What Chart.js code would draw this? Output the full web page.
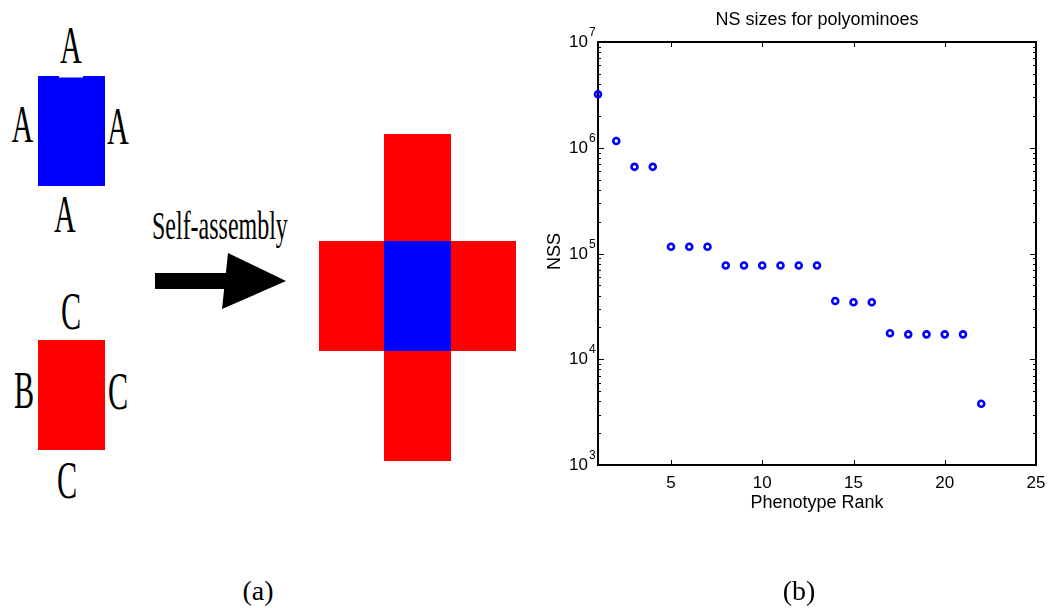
<!DOCTYPE html>
<html>
<head>
<meta charset="utf-8">
<title>Polyomino self-assembly and NS sizes</title>
<script src="https://cdn.jsdelivr.net/npm/chart.js@4.4.1/dist/chart.umd.min.js"></script>
<style>
  html, body { margin: 0; padding: 0; background: #fff; }
  body { width: 1051px; height: 608px; position: relative; overflow: hidden; }
  #diagram { position: absolute; left: 0; top: 0; }
  #plotBox { position: absolute; left: 540px; top: 0; width: 511px; height: 608px; }
  .tile-label { font-family: "Liberation Serif", "DejaVu Serif", serif; fill: #000; }
  .caption { font-family: "Liberation Serif", "DejaVu Serif", serif; font-size: 28px; fill: #000; }
</style>
</head>
<body>

<!-- Panel (a): two tile types and the assembled cross -->
<svg id="diagram" width="540" height="608" xmlns="http://www.w3.org/2000/svg">
  <!-- blue seed tile -->
  <rect x="38" y="76" width="67" height="110" fill="#0000ff"/>
  <rect x="59" y="76" width="24" height="1.5" fill="#ffffff"/>
  <text class="tile-label" font-size="52" text-anchor="middle" transform="translate(71,63) scale(0.58,1)">A</text>
  <text class="tile-label" font-size="52" text-anchor="middle" transform="translate(22.5,142) scale(0.58,1)">A</text>
  <text class="tile-label" font-size="52" text-anchor="middle" transform="translate(118,144) scale(0.58,1)">A</text>
  <text class="tile-label" font-size="52" text-anchor="middle" transform="translate(65,232) scale(0.58,1)">A</text>

  <!-- red tile -->
  <rect x="38" y="340" width="67" height="110" fill="#ff0000"/>
  <text class="tile-label" font-size="52" text-anchor="middle" transform="translate(71,329) scale(0.58,1)">C</text>
  <text class="tile-label" font-size="52" text-anchor="middle" transform="translate(24,408) scale(0.58,1)">B</text>
  <text class="tile-label" font-size="52" text-anchor="middle" transform="translate(118,409) scale(0.58,1)">C</text>
  <text class="tile-label" font-size="52" text-anchor="middle" transform="translate(67,498) scale(0.58,1)">C</text>

  <!-- assembly arrow -->
  <text class="tile-label" font-size="41" transform="translate(152,239) scale(0.585,1)">Self-assembly</text>
  <rect x="155" y="273" width="72" height="16" fill="#000"/>
  <polygon points="228,253 286,281 222,309" fill="#000"/>

  <!-- assembled cross -->
  <rect x="384" y="134" width="67" height="107" fill="#ff0000"/>
  <rect x="319" y="241" width="65" height="110" fill="#ff0000"/>
  <rect x="384" y="241" width="67" height="110" fill="#0000ff"/>
  <rect x="451" y="241" width="65" height="110" fill="#ff0000"/>
  <rect x="384" y="351" width="67" height="110" fill="#ff0000"/>

  <text class="caption" x="258" y="600" text-anchor="middle">(a)</text>
</svg>

<!-- Panel (b): NS sizes by phenotype rank -->
<div id="plotBox"><canvas id="nsChart"></canvas></div>
<svg style="position:absolute;left:760px;top:560px" width="80" height="48" xmlns="http://www.w3.org/2000/svg">
  <text class="caption" x="39" y="40" text-anchor="middle">(b)</text>
</svg>

<script>
// Phenotype ranks and their neutral-set sizes
const phenotypeRank = [1, 2, 3, 4, 5, 6, 7, 8, 9, 10, 11, 12, 13, 14, 15, 16, 17, 18, 19, 20, 21, 22];
const nsSize = [3.2e6, 1.16e6, 6.6e5, 6.6e5, 1.16e5, 1.16e5, 1.16e5,
                7.7e4, 7.7e4, 7.7e4, 7.7e4, 7.7e4, 7.7e4,
                3.56e4, 3.46e4, 3.46e4,
                1.76e4, 1.72e4, 1.72e4, 1.72e4, 1.72e4,
                3.8e3];

// Axis ranges and tick values
const xRange = [1, 25];
const xTickValues = [5, 10, 15, 20, 25];
const yDecades = [3, 4, 5, 6, 7];

const chartTitle = 'NS sizes for polyominoes';
const xTitle = 'Phenotype Rank';
const yTitle = 'NSS';

const points = phenotypeRank.map((r, i) => ({ x: r, y: nsSize[i] }));

const SANS = '"Liberation Sans", Arial, Helvetica, sans-serif';

// MATLAB-style boxed axes: inward ticks on all four sides, log minor ticks,
// 10^n labels with raised exponents
const boxAxes = {
  id: 'boxAxes',
  beforeDatasetsDraw(chart) {
    const { ctx, chartArea: a, scales: { x, y } } = chart;
    ctx.save();
    ctx.strokeStyle = '#000';
    ctx.fillStyle = '#000';

    // frame
    ctx.lineWidth = 2;
    ctx.strokeRect(Math.round(a.left), Math.round(a.top),
                   Math.round(a.right - a.left), Math.round(a.bottom - a.top));

    ctx.lineWidth = 1;
    ctx.beginPath();
    // x ticks (bottom and top)
    xTickValues.forEach(v => {
      const px = Math.round(x.getPixelForValue(v)) + 0.5;
      ctx.moveTo(px, a.bottom); ctx.lineTo(px, a.bottom - 5);
      ctx.moveTo(px, a.top); ctx.lineTo(px, a.top + 5);
    });
    // y ticks: decades and 2..9 minor ticks (left and right)
    yDecades.forEach(d => {
      const base = Math.pow(10, d);
      const py = Math.round(y.getPixelForValue(base)) + 0.5;
      ctx.moveTo(a.left, py); ctx.lineTo(a.left + 6, py);
      ctx.moveTo(a.right, py); ctx.lineTo(a.right - 6, py);
      if (d < yDecades[yDecades.length - 1]) {
        for (let m = 2; m <= 9; m++) {
          const my = Math.round(y.getPixelForValue(m * base)) + 0.5;
          ctx.moveTo(a.left, my); ctx.lineTo(a.left + 3, my);
          ctx.moveTo(a.right, my); ctx.lineTo(a.right - 3, my);
        }
      }
    });
    ctx.stroke();

    // x tick labels
    ctx.font = '17px ' + SANS;
    ctx.textAlign = 'center';
    ctx.textBaseline = 'alphabetic';
    xTickValues.forEach(v => {
      ctx.fillText(String(v), x.getPixelForValue(v), a.bottom + 23);
    });

    // y tick labels: "10" with superscript exponent
    yDecades.forEach(d => {
      const py = y.getPixelForValue(Math.pow(10, d));
      ctx.font = '17px ' + SANS;
      ctx.textAlign = 'right';
      ctx.fillText('10', a.left - 10, py + 5);
      ctx.font = '12px ' + SANS;
      ctx.textAlign = 'left';
      ctx.fillText(String(d), a.left - 9, py - 6);
    });

    // title and axis titles
    ctx.font = '18px ' + SANS;
    ctx.textAlign = 'center';
    ctx.fillText(chartTitle, (a.left + a.right) / 2, 25);
    ctx.fillText(xTitle, (a.left + a.right) / 2, a.bottom + 43);

    ctx.translate(a.left - 38, (a.top + a.bottom) / 2 - 2);
    ctx.rotate(-Math.PI / 2);
    ctx.fillText(yTitle, 0, 0);
    ctx.restore();
  }
};

new Chart(document.getElementById('nsChart'), {
  type: 'scatter',
  data: {
    datasets: [{
      label: yTitle,
      data: points,
      showLine: false,
      pointStyle: 'circle',
      pointRadius: 3,
      pointHoverRadius: 3,
      pointBorderWidth: 2.6,
      borderColor: '#0000ff',
      backgroundColor: 'rgba(0,0,0,0)',
      clip: false
    }]
  },
  options: {
    responsive: true,
    maintainAspectRatio: false,
    animation: false,
    devicePixelRatio: 1,
    layout: { padding: { left: 58, right: 15, top: 42, bottom: 143 } },
    plugins: { legend: { display: false }, tooltip: { enabled: false }, title: { display: false } },
    scales: {
      x: { type: 'linear', display: false, min: xRange[0], max: xRange[1] },
      y: { type: 'logarithmic', display: false, min: Math.pow(10, yDecades[0]), max: Math.pow(10, yDecades[yDecades.length - 1]) }
    }
  },
  plugins: [boxAxes]
});
</script>
</body>
</html>
